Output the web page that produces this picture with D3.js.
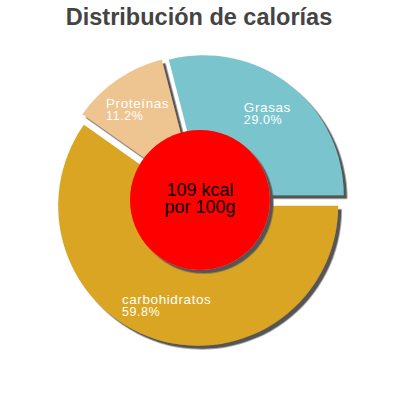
<!DOCTYPE html>
<html>
<head>
<meta charset="utf-8">
<script src="https://cdn.jsdelivr.net/npm/d3@7"></script>
<style>
  html, body { margin: 0; padding: 0; background: #fff; }
  svg { display: block; }
</style>
</head>
<body>
<div id="chart"></div>
<script>
const categories = ["Grasas", "Proteínas", "carbohidratos"];
const values = [29.0, 11.2, 59.8];
const colors = ["#7AC5CD", "#EEC591", "#DAA520"];
const title = "Distribución de calorías";
const centerLines = ["109 kcal", "por 100g"];

const W = 400, H = 400;
const cx = 200, cy = 200;
const R = 140, explode = 6, holeR = 70;

const svg = d3.select("#chart").append("svg")
  .attr("width", W).attr("height", H)
  .style("font-family", "'Liberation Sans', Arial, sans-serif");

const defs = svg.append("defs");
const f = defs.append("filter").attr("id", "shadow")
  .attr("x", "-20%").attr("y", "-20%").attr("width", "140%").attr("height", "140%");
f.append("feDropShadow").attr("dx", 3.5).attr("dy", 3.5)
  .attr("stdDeviation", 0.6).attr("flood-color", "#555").attr("flood-opacity", 1);

svg.append("text")
  .attr("x", W / 2 - 1).attr("y", 25)
  .attr("text-anchor", "middle")
  .attr("font-size", 23.5).attr("font-weight", "bold")
  .attr("fill", "#444")
  .text(title);

const data = categories.map((c, i) => ({ name: c, value: values[i], color: colors[i] }));
const total = d3.sum(values);

const pie = d3.pie().sort(null).value(d => d.value)
  .startAngle(Math.PI / 2).endAngle(Math.PI / 2 - 2 * Math.PI);
const arcs = pie(data);

const arc = d3.arc().innerRadius(0).outerRadius(R);
const labelArc = d3.arc().innerRadius(104).outerRadius(104);

const offset = d => {
  const a = (d.startAngle + d.endAngle) / 2;
  return [Math.sin(a) * explode, -Math.cos(a) * explode];
};

const g = svg.append("g").attr("transform", `translate(${cx},${cy})`);

const slices = g.append("g").attr("filter", "url(#shadow)");
slices.selectAll("path").data(arcs).join("path")
  .attr("transform", d => `translate(${offset(d)})`)
  .attr("d", arc)
  .attr("fill", d => d.data.color);

const labels = g.append("g");
arcs.forEach(d => {
  const [ox, oy] = offset(d);
  const [lx, ly] = labelArc.centroid(d);
  const t = labels.append("text")
    .attr("fill", "#fff")
    .attr("letter-spacing", "0.6px");
  const l1 = t.append("tspan").attr("font-size", 13.5).text(d.data.name);
  const l2 = t.append("tspan").attr("font-size", 12.5)
    .text(d3.format(".1f")(d.data.value / total * 100) + "%");
  const w = Math.max(l1.node().getComputedTextLength(), l2.node().getComputedTextLength());
  const x = lx + ox - w / 2;
  const y = ly + oy - 1;
  l1.attr("x", x).attr("y", y);
  l2.attr("x", x).attr("y", y + 12);
});

const hole = g.append("g");
hole.append("circle").attr("r", holeR).attr("fill", "#ff0000")
  .attr("filter", "url(#shadow)");
hole.selectAll("text.c").data(centerLines).join("text")
  .attr("class", "c")
  .attr("text-anchor", "middle")
  .attr("y", (d, i) => -4 + i * 17)
  .attr("font-size", 18)
  .attr("fill", "#000")
  .text(d => d);
</script>
</body>
</html>
